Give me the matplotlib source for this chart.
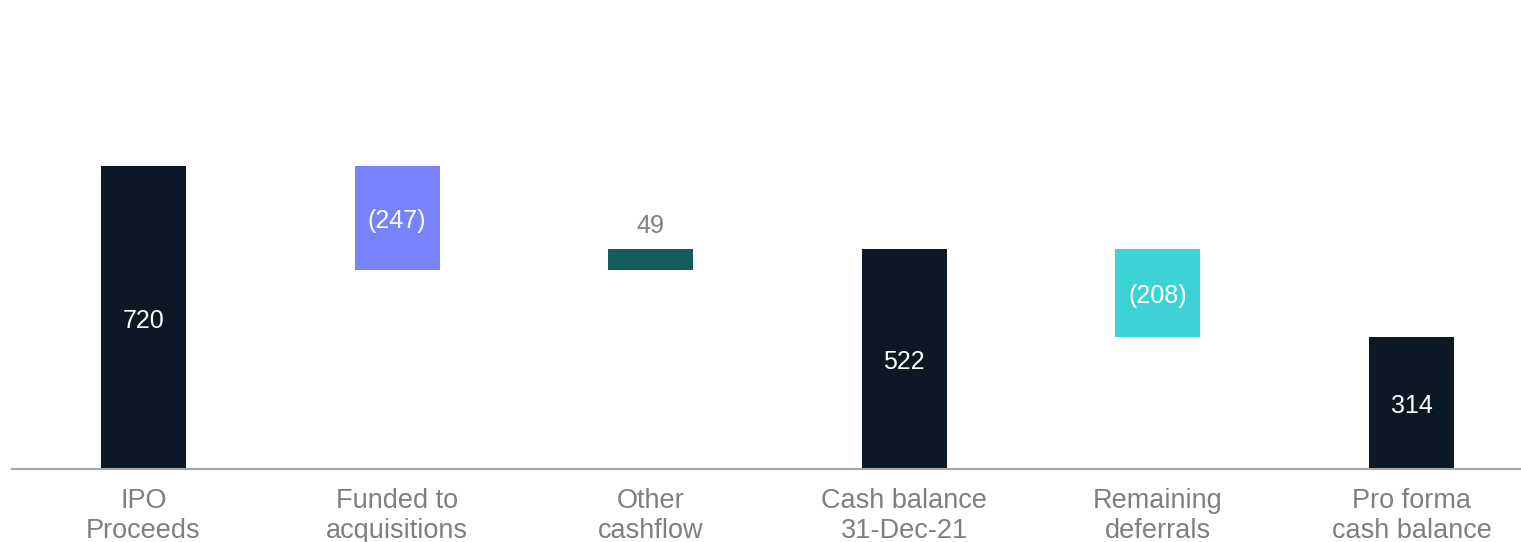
import matplotlib
matplotlib.use("Agg")
import matplotlib.pyplot as plt

categories = ["IPO\nProceeds", "Funded to\nacquisitions", "Other\ncashflow",
              "Cash balance\n31-Dec-21", "Remaining\ndeferrals", "Pro forma\ncash balance"]
values = [720, -247, 49, 522, -208, 314]
kinds = ["total", "delta", "delta", "total", "delta", "total"]
labels = ["720", "(247)", "49", "522", "(208)", "314"]
colors = ["#0d1826", "#7882fc", "#135b5d", "#0d1826", "#3dd3d6", "#0d1826"]
label_colors = ["white", "white", "#808080", "white", "white", "white"]

plt.rcParams['font.family'] = ['Liberation Sans', 'DejaVu Sans']

W, H = 1521, 542
fig = plt.figure(figsize=(W / 100, H / 100), dpi=100)
ax = fig.add_axes([12 / W, 73 / H, 1 - 12 / W, 1 - 73 / H])

px_per_unit = 303 / 720
running = 0
for i, (v, k) in enumerate(zip(values, kinds)):
    if k == "total":
        bottom, top = 0, v
        running = v
    else:
        start = running
        running = running + v
        bottom, top = min(start, running), max(start, running)
    ax.bar(i, top - bottom, bottom=bottom, width=0.335, color=colors[i], linewidth=0)
    if label_colors[i] == "white":
        ax.text(i, (top + bottom) / 2 - 3 / px_per_unit, labels[i], ha="center", va="center",
                color="white", fontsize=18)
    else:
        ax.text(i, top + 55, labels[i], ha="center", va="center",
                color=label_colors[i], fontsize=18)

ax.set_ylim(0, 469 / px_per_unit)
xmin = -0.5185
ax.set_xlim(xmin, xmin + (W - 12) / 253.6)

ax.set_xticks(range(len(categories)))
ax.set_xticklabels(categories, fontsize=19.5, color="#7f7f7f", linespacing=1.2)
ax.tick_params(axis="x", length=0, pad=14)
ax.set_yticks([])
for s in ["top", "right", "left"]:
    ax.spines[s].set_visible(False)
ax.spines["bottom"].set_color("#a6a6a6")
ax.spines["bottom"].set_linewidth(1.5)

fig.savefig("out.png", dpi=100)
